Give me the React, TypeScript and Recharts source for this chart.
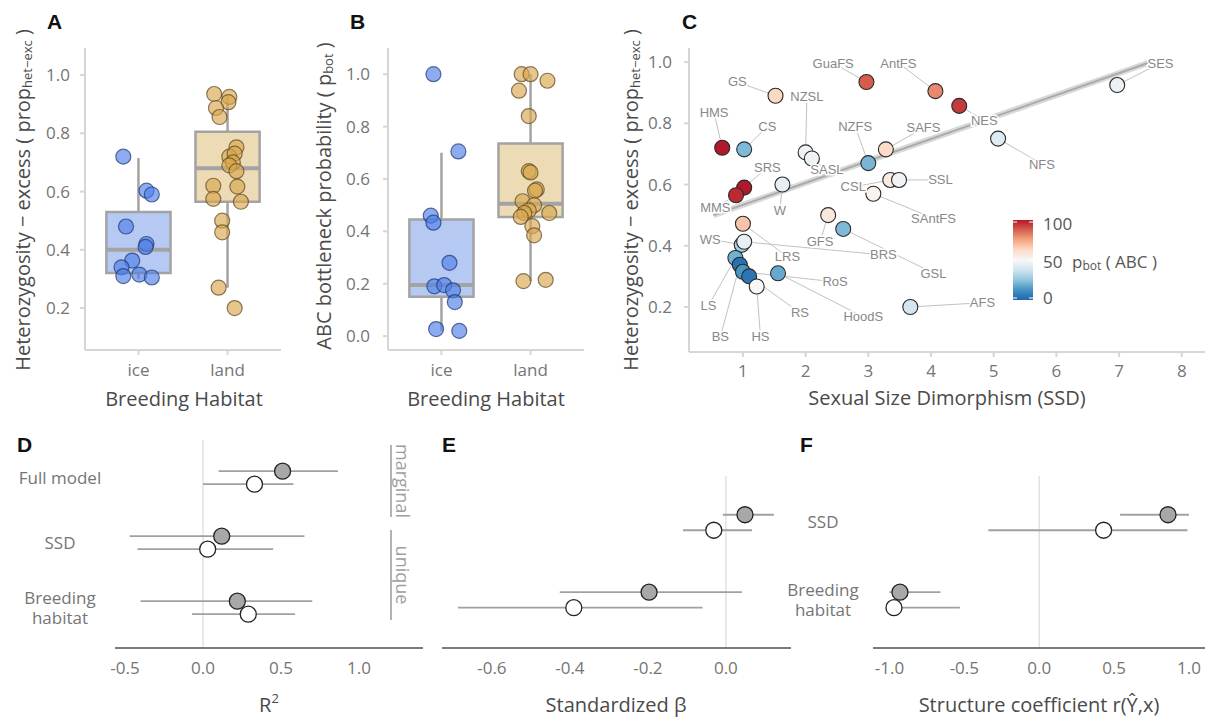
import React from 'react'
import {
    ScatterChart,
    Scatter,
    XAxis,
    YAxis,
    ReferenceLine,
    ReferenceArea,
    ErrorBar,
} from 'recharts'

const FONT = '"Open Sans", "DejaVu Sans", sans-serif'
const LABEL_FONT = '"Liberation Sans", Arial, sans-serif'
const TICK = { fill: '#757575', fontSize: 17, fontFamily: FONT }
const TITLE_FILL = '#4a4a4a'

// ---- panels A & B: one value per species, split by breeding habitat
const habitats = ['ice', 'land']

const hetIce = [0.72, 0.603, 0.59, 0.48, 0.42, 0.41, 0.363, 0.34, 0.31, 0.315, 0.305]
const hetIceJitter = [-0.17, 0.09, 0.15, -0.14, 0.09, 0.08, -0.07, -0.19, -0.17, 0.01, 0.15]
const hetLand = [0.935, 0.925, 0.907, 0.887, 0.856, 0.752, 0.72, 0.73, 0.7, 0.69, 0.67, 0.62, 0.617, 0.575, 0.565, 0.5, 0.46, 0.27, 0.2]
const hetLandJitter = [-0.15, 0.02, 0.01, -0.13, -0.09, 0.1, 0.02, 0.08, 0.06, 0.02, 0.1, -0.16, 0.11, -0.16, 0.15, -0.06, -0.06, -0.1, 0.08]

const pbotIce = [1.0, 0.705, 0.46, 0.433, 0.28, 0.19, 0.195, 0.175, 0.13, 0.027, 0.02]
const pbotIceJitter = [-0.09, 0.19, -0.12, -0.09, 0.09, -0.08, 0.03, 0.13, 0.15, -0.06, 0.2]
const pbotLand = [1.0, 1.0, 0.975, 0.937, 0.84, 0.63, 0.625, 0.56, 0.555, 0.515, 0.5, 0.48, 0.47, 0.47, 0.455, 0.42, 0.385, 0.21, 0.215]
const pbotLandJitter = [-0.1, 0.0, 0.19, -0.13, -0.02, -0.02, 0.0, 0.07, 0.05, -0.09, 0.04, -0.02, -0.07, 0.21, -0.11, 0.02, 0.04, -0.08, 0.17]

// box stats: [lower whisker, q1, median, q3, upper whisker]
const hetBoxes = [
    [0.3, 0.32, 0.4, 0.53, 0.715],
    [0.27, 0.565, 0.68, 0.805, 0.93],
]
const pbotBoxes = [
    [0.02, 0.15, 0.195, 0.445, 0.7],
    [0.21, 0.455, 0.505, 0.735, 1.0],
]

// ---- panel C: per species SSD, heterozygosity excess and p_bot (%)
const species = ['GuaFS', 'AntFS', 'SES', 'GS', 'NZSL', 'SASL', 'HMS', 'CS', 'NZFS', 'SAFS', 'NES', 'NFS', 'SRS', 'MMS', 'W', 'CSL', 'SSL', 'SAntFS', 'GFS', 'GSL', 'AFS', 'LRS', 'WS', 'BRS', 'LS', 'BS', 'RoS', 'RS', 'HS', 'HoodS']
const ssd = [2.97, 4.07, 6.97, 1.52, 2.0, 2.1, 0.67, 1.02, 3.0, 3.28, 4.45, 5.07, 1.02, 0.89, 1.63, 3.35, 3.49, 3.08, 2.36, 2.6, 3.67, 1.0, 0.98, 1.02, 0.88, 0.95, 1.0, 1.1, 1.22, 1.56]
const het = [0.935, 0.905, 0.925, 0.89, 0.705, 0.685, 0.72, 0.715, 0.67, 0.715, 0.857, 0.75, 0.59, 0.565, 0.6, 0.615, 0.615, 0.57, 0.5, 0.455, 0.2, 0.472, 0.403, 0.413, 0.36, 0.338, 0.315, 0.3, 0.267, 0.31]
const pbot = [88, 80, 46, 63, 47, 47, 100, 22, 21, 62, 94, 42, 100, 97, 44, 56, 48, 52, 57, 22, 38, 68, 30, 45, 20, 3, 13, 4, 50, 18]
// repelled label anchors (data units)
const labelSsd = [2.44, 3.48, 7.66, 0.91, 2.02, 2.34, 0.54, 1.39, 2.79, 3.88, 4.85, 5.77, 1.39, 0.56, 1.59, 2.76, 4.15, 4.04, 2.23, 4.04, 4.82, 1.71, 0.48, 3.24, 0.45, 0.64, 2.47, 1.91, 1.28, 2.92]
const labelHet = [0.997, 0.997, 0.997, 0.935, 0.886, 0.648, 0.834, 0.79, 0.79, 0.785, 0.81, 0.667, 0.657, 0.524, 0.514, 0.592, 0.615, 0.49, 0.413, 0.311, 0.214, 0.364, 0.422, 0.37, 0.204, 0.103, 0.282, 0.181, 0.103, 0.168]
const fitSsd = [0.53, 7.46]
const fitHet = [0.5, 0.997]

// ---- panels D-F: estimates with intervals (grey = filled dots, white = open dots)
const r2Rows = ['Full model', 'SSD', 'Breeding\nhabitat']
const r2Grey = [0.51, 0.12, 0.22]
const r2GreyLo = [0.1, -0.47, -0.4]
const r2GreyHi = [0.865, 0.65, 0.7]
const r2White = [0.33, 0.03, 0.29]
const r2WhiteLo = [0.0, -0.42, -0.07]
const r2WhiteHi = [0.58, 0.45, 0.59]

const predRows = ['SSD', 'Breeding\nhabitat']
const betaGrey = [0.049, -0.197]
const betaGreyLo = [-0.008, -0.426]
const betaGreyHi = [0.123, 0.041]
const betaWhite = [-0.031, -0.39]
const betaWhiteLo = [-0.11, -0.687]
const betaWhiteHi = [0.067, -0.06]

const structGrey = [0.86, -0.93]
const structGreyLo = [0.54, -1.0]
const structGreyHi = [1.0, -0.66]
const structWhite = [0.43, -0.97]
const structWhiteLo = [-0.34, -0.99]
const structWhiteHi = [0.99, -0.53]

// RdBu palette for p_bot
const RDBU = ['#2166ac', '#4393c3', '#92c5de', '#d1e5f0', '#f7f7f7', '#fddbc7', '#f4a582', '#d6604d', '#b2182b']
const hexRgb = (h: string) => [1, 3, 5].map((k) => parseInt(h.slice(k, k + 2), 16))
const rdbu = (v: number) => {
    const t = Math.max(0, Math.min(1, v / 100)) * (RDBU.length - 1)
    const i = Math.min(Math.floor(t), RDBU.length - 2)
    const f = t - i
    const a = hexRgb(RDBU[i])
    const b = hexRgb(RDBU[i + 1])
    const c = a.map((x, k) => Math.round(x + (b[k] - x) * f))
    return `rgb(${c[0]},${c[1]},${c[2]})`
}

const fmt1 = (v: number) => v.toFixed(1)

const bubble = (fill: string, edge: string) => (p: any) => (
    <circle
        cx={p.cx}
        cy={p.cy}
        r={7.5}
        fill={fill}
        fillOpacity={0.65}
        stroke={edge}
        strokeOpacity={0.7}
        strokeWidth={1.2}
    />
)

interface BoxPanelProps {
    ice: number[]
    iceJitter: number[]
    land: number[]
    landJitter: number[]
    boxes: number[][]
    domain: [number, number]
    ticks: number[]
    yWidth: number
    yMargin: number
}

const BOX_FILL = ['#b5c9f3', '#ecdbb5']
const BOX_EDGE = '#a3a3a3'

const BoxPanel = ({ ice, iceJitter, land, landJitter, boxes, domain, ticks, yWidth, yMargin }: BoxPanelProps) => {
    const pts = (vals: number[], jit: number[], cat: number) => vals.map((v, i) => ({ x: cat + jit[i], y: v }))
    return (
        <ScatterChart width={290} height={400} margin={{ top: 48, right: 290 - yWidth - 196, bottom: 10, left: 0 }}>
            <XAxis
                type="number"
                dataKey="x"
                domain={[0.4, 2.6]}
                allowDataOverflow
                ticks={[1, 2]}
                interval={0}
                tickFormatter={(v: number) => habitats[v - 1]}
                axisLine={{ stroke: '#d6d6d6', strokeWidth: 2 }}
                tickLine={{ stroke: '#d6d6d6', strokeWidth: 2 }}
                tickSize={5}
                tickMargin={9}
                tick={TICK}
                height={40}
            />
            <YAxis
                type="number"
                dataKey="y"
                domain={domain}
                allowDataOverflow
                ticks={ticks}
                interval={0}
                tickFormatter={fmt1}
                axisLine={{ stroke: '#d6d6d6', strokeWidth: 2 }}
                tickLine={{ stroke: '#d6d6d6', strokeWidth: 2 }}
                tickSize={5}
                tickMargin={yMargin}
                tick={TICK}
                width={yWidth}
            />
            {boxes.map((b, i) => {
                const c = i + 1
                return (
                    <React.Fragment key={c}>
                        <ReferenceLine segment={[{ x: c, y: b[0] }, { x: c, y: b[1] }]} stroke={BOX_EDGE} strokeWidth={2.5} />
                        <ReferenceLine segment={[{ x: c, y: b[3] }, { x: c, y: b[4] }]} stroke={BOX_EDGE} strokeWidth={2.5} />
                        <ReferenceArea
                            x1={c - 0.36}
                            x2={c + 0.36}
                            y1={b[1]}
                            y2={b[3]}
                            fill={BOX_FILL[i]}
                            fillOpacity={1}
                            stroke={BOX_EDGE}
                            strokeWidth={2.5}
                        />
                        <ReferenceLine
                            segment={[{ x: c - 0.36, y: b[2] }, { x: c + 0.36, y: b[2] }]}
                            stroke={BOX_EDGE}
                            strokeWidth={4}
                        />
                    </React.Fragment>
                )
            })}
            <Scatter data={pts(ice, iceJitter, 1)} shape={bubble('#4f7fe6', '#1d3570')} isAnimationActive={false} />
            <Scatter data={pts(land, landJitter, 2)} shape={bubble('#d9a84e', '#5e4620')} isAnimationActive={false} />
        </ScatterChart>
    )
}

const sealPoints = species.map((s, i) => ({ x: ssd[i], y: het[i], pbot: pbot[i], name: s }))
const sealLabels = species.map((s, i) => ({ x: labelSsd[i], y: labelHet[i], name: s }))
const fitLine = fitSsd.map((x, i) => ({ x, y: fitHet[i] }))

const SsdPanel = () => (
    <ScatterChart width={606} height={420} margin={{ top: 48, right: 1, bottom: 28, left: 0 }}>
        <XAxis
            type="number"
            dataKey="x"
            domain={[0.14, 8.37]}
            allowDataOverflow
            ticks={[1, 2, 3, 4, 5, 6, 7, 8]}
            interval={0}
            axisLine={{ stroke: '#d6d6d6', strokeWidth: 2 }}
            tickLine={{ stroke: '#d6d6d6', strokeWidth: 2 }}
            tickSize={5}
            tickMargin={8}
            tick={TICK}
            height={40}
        />
        <YAxis
            type="number"
            dataKey="y"
            domain={[0.053, 1.046]}
            allowDataOverflow
            ticks={[0.2, 0.4, 0.6, 0.8, 1.0]}
            interval={0}
            tickFormatter={fmt1}
            axisLine={{ stroke: '#d6d6d6', strokeWidth: 2 }}
            tickLine={{ stroke: '#d6d6d6', strokeWidth: 2 }}
            tickSize={5}
            tickMargin={12}
            tick={TICK}
            width={89}
        />
        <Scatter
            data={fitLine}
            line={{ stroke: '#cfcfcf', strokeWidth: 6, strokeOpacity: 0.8 }}
            shape={() => <g />}
            isAnimationActive={false}
        />
        <Scatter
            data={fitLine}
            line={{ stroke: '#ababab', strokeWidth: 2 }}
            shape={() => <g />}
            isAnimationActive={false}
        />
        {species.map((s, i) => (
            <ReferenceLine
                key={s}
                segment={[{ x: labelSsd[i], y: labelHet[i] }, { x: ssd[i], y: het[i] }]}
                stroke="#c2c2c2"
                strokeWidth={1}
            />
        ))}
        <Scatter
            data={sealPoints}
            shape={(p: any) => (
                <circle cx={p.cx} cy={p.cy} r={7.5} fill={rdbu(p.payload.pbot)} stroke="#2a2a2a" strokeWidth={1.1} />
            )}
            isAnimationActive={false}
        />
        <Scatter
            data={sealLabels}
            shape={(p: any) => (
                <text
                    x={p.cx}
                    y={p.cy}
                    textAnchor="middle"
                    dominantBaseline="central"
                    fontSize={13}
                    fontFamily={LABEL_FONT}
                    fill="#888"
                    stroke="#fff"
                    strokeWidth={3}
                    paintOrder="stroke"
                >
                    {p.payload.name}
                </text>
            )}
            isAnimationActive={false}
        />
    </ScatterChart>
)

const forestData = (est: number[], lo: number[], hi: number[], shift: number) =>
    est.map((e, i) => ({ x: e, y: est.length - i + shift, err: [e - lo[i], hi[i] - e] }))

const rowTick = (names: string[], shift: number) => (p: any) => {
    const lines = names[names.length - p.payload.value].split('\n')
    return (
        <text x={p.x - shift} y={p.y} textAnchor="middle" fill="#757575" fontSize={17} fontFamily={FONT}>
            {lines.map((l, i) => (
                <tspan key={i} x={p.x - shift} dy={i === 0 ? (lines.length > 1 ? '-0.22em' : '0.35em') : '1.15em'}>
                    {l}
                </tspan>
            ))}
        </text>
    )
}

const dot = (fill: string) => (p: any) => (
    <circle cx={p.cx} cy={p.cy} r={8} fill={fill} stroke="#222" strokeWidth={1.3} />
)

interface ForestProps {
    rows: string[]
    grey: number[][]
    white: number[][]
    xDomain: [number, number]
    yDomain: [number, number]
    ticks: number[]
    width: number
    margin: { top: number; right: number; bottom: number; left: number }
    yWidth: number
    labelShift: number
    showRows: boolean
}

const ForestPanel = ({ rows, grey, white, xDomain, yDomain, ticks, width, margin, yWidth, labelShift, showRows }: ForestProps) => (
    <ScatterChart width={width} height={299} margin={margin}>
        <XAxis
            type="number"
            dataKey="x"
            domain={xDomain}
            allowDataOverflow
            ticks={ticks}
            interval={0}
            tickFormatter={fmt1}
            axisLine={{ stroke: '#505050', strokeWidth: 1.6 }}
            tickLine={false}
            tickSize={0}
            tickMargin={14}
            tick={TICK}
            height={30}
        />
        {showRows ? (
            <YAxis
                type="number"
                dataKey="y"
                domain={yDomain}
                allowDataOverflow
                ticks={rows.map((_, i) => i + 1)}
                interval={0}
                axisLine={false}
                tickLine={false}
                tickSize={0}
                tickMargin={0}
                tick={rowTick(rows, labelShift)}
                width={yWidth}
            />
        ) : (
            <YAxis type="number" dataKey="y" domain={yDomain} allowDataOverflow hide />
        )}
        <ReferenceLine x={0} stroke="#e2e2e2" strokeWidth={1.5} />
        <Scatter data={forestData(grey[0], grey[1], grey[2], 0.1)} shape={dot('#a8a8a8')} isAnimationActive={false}>
            <ErrorBar dataKey="err" direction="x" width={0} stroke="#a0a0a0" strokeWidth={1.8} isAnimationActive={false} />
        </Scatter>
        <Scatter data={forestData(white[0], white[1], white[2], -0.1)} shape={dot('#ffffff')} isAnimationActive={false}>
            <ErrorBar dataKey="err" direction="x" width={0} stroke="#a0a0a0" strokeWidth={1.8} isAnimationActive={false} />
        </Scatter>
    </ScatterChart>
)

const Overlay = () => (
    <svg
        width={1206}
        height={719}
        style={{ position: 'absolute', left: 0, top: 0, pointerEvents: 'none' }}
        fontFamily={FONT}
    >
        <defs>
            <linearGradient id="rdbu" x1="0" y1="1" x2="0" y2="0">
                {RDBU.map((c, i) => (
                    <stop key={c} offset={`${(i / (RDBU.length - 1)) * 100}%`} stopColor={c} />
                ))}
            </linearGradient>
        </defs>
        {/* panel letters */}
        <g fontFamily={LABEL_FONT} fontWeight="bold" fontSize={21} fill="#111">
            <text x={47} y={29}>A</text>
            <text x={350} y={29}>B</text>
            <text x={682} y={29}>C</text>
            <text x={17} y={452}>D</text>
            <text x={442} y={452}>E</text>
            <text x={800} y={452}>F</text>
        </g>
        {/* axis titles */}
        <g fontSize={20} fill={TITLE_FILL}>
            <text transform="translate(22,200) rotate(-90)" textAnchor="middle" dominantBaseline="central">
                Heterozygosity − excess ( prop
                <tspan fontSize={13} dy={5}>het−exc</tspan>
                <tspan dy={-5}> )</tspan>
            </text>
            <text transform="translate(323,196) rotate(-90)" textAnchor="middle" dominantBaseline="central">
                ABC bottleneck probability ( p
                <tspan fontSize={13} dy={5}>bot</tspan>
                <tspan dy={-5}> )</tspan>
            </text>
            <text transform="translate(630,200) rotate(-90)" textAnchor="middle" dominantBaseline="central">
                Heterozygosity − excess ( prop
                <tspan fontSize={13} dy={5}>het−exc</tspan>
                <tspan dy={-5}> )</tspan>
            </text>
            <text x={184} y={406} textAnchor="middle">Breeding Habitat</text>
            <text x={486} y={406} textAnchor="middle">Breeding Habitat</text>
            <text x={947} y={405} textAnchor="middle">Sexual Size Dimorphism (SSD)</text>
            <text x={269} y={712} textAnchor="middle">
                R<tspan fontSize={13} dy={-9}>2</tspan>
            </text>
            <text x={616} y={712} textAnchor="middle">Standardized β</text>
            <text x={1039} y={712} textAnchor="middle">Structure coefficient r(Ŷ,x)</text>
        </g>
        {/* marginal / unique brackets in D */}
        <g stroke="#a0a0a0" strokeWidth={1.6}>
            <line x1={391} y1={445} x2={391} y2={517} />
            <line x1={391} y1={530} x2={391} y2={620} />
        </g>
        <g fontSize={18} fill="#a0a0a0">
            <text transform="translate(403,481) rotate(90)" textAnchor="middle" dominantBaseline="central">marginal</text>
            <text transform="translate(403,575) rotate(90)" textAnchor="middle" dominantBaseline="central">unique</text>
        </g>
        {/* p_bot colour bar */}
        <rect x={1013} y={220} width={20} height={80} fill="url(#rdbu)" />
        <g stroke="#fff" strokeWidth={1}>
            {[0, 50, 100].map((v) => (
                <React.Fragment key={v}>
                    <line x1={1013} x2={1017} y1={300 - v * 0.76 - 2} y2={300 - v * 0.76 - 2} />
                    <line x1={1029} x2={1033} y1={300 - v * 0.76 - 2} y2={300 - v * 0.76 - 2} />
                </React.Fragment>
            ))}
        </g>
        <g fontSize={17} fill="#555" dominantBaseline="central">
            <text x={1043} y={223}>100</text>
            <text x={1043} y={261}>50</text>
            <text x={1043} y={297}>0</text>
            <text x={1072} y={261}>
                p<tspan fontSize={12} dy={4}>bot</tspan>
                <tspan dy={-4}> ( ABC )</tspan>
            </text>
        </g>
    </svg>
)

export default function App() {
    return (
        <div style={{ position: 'relative', width: 1206, height: 719, background: '#fff', overflow: 'hidden' }}>
            <style>{'body { margin: 0; }'}</style>
            <div style={{ position: 'absolute', left: 0, top: 0 }}>
                <BoxPanel
                    ice={hetIce}
                    iceJitter={hetIceJitter}
                    land={hetLand}
                    landJitter={hetLandJitter}
                    boxes={hetBoxes}
                    domain={[0.056, 1.093]}
                    ticks={[0.2, 0.4, 0.6, 0.8, 1.0]}
                    yWidth={85}
                    yMargin={10}
                />
            </div>
            <div style={{ position: 'absolute', left: 300, top: 0 }}>
                <BoxPanel
                    ice={pbotIce}
                    iceJitter={pbotIceJitter}
                    land={pbotLand}
                    landJitter={pbotLandJitter}
                    boxes={pbotBoxes}
                    domain={[-0.053, 1.1]}
                    ticks={[0, 0.2, 0.4, 0.6, 0.8, 1.0]}
                    yWidth={88}
                    yMargin={13}
                />
            </div>
            <div style={{ position: 'absolute', left: 600, top: 0 }}>
                <SsdPanel />
            </div>
            <div style={{ position: 'absolute', left: 0, top: 420 }}>
                <ForestPanel
                    rows={r2Rows}
                    grey={[r2Grey, r2GreyLo, r2GreyHi]}
                    white={[r2White, r2WhiteLo, r2WhiteHi]}
                    xDomain={[-0.564, 1.41]}
                    yDomain={[0.38, 3.58]}
                    ticks={[-0.5, 0, 0.5, 1.0]}
                    width={430}
                    margin={{ top: 20, right: 7, bottom: 41, left: 0 }}
                    yWidth={115}
                    labelShift={55}
                    showRows
                />
            </div>
            <div style={{ position: 'absolute', left: 430, top: 420 }}>
                <ForestPanel
                    rows={predRows}
                    grey={[betaGrey, betaGreyLo, betaGreyHi]}
                    white={[betaWhite, betaWhiteLo, betaWhiteHi]}
                    xDomain={[-0.728, 0.167]}
                    yDomain={[0.38, 2.6]}
                    ticks={[-0.6, -0.4, -0.2, 0]}
                    width={370}
                    margin={{ top: 56, right: 9, bottom: 41, left: 12 }}
                    yWidth={0}
                    labelShift={0}
                    showRows={false}
                />
            </div>
            <div style={{ position: 'absolute', left: 770, top: 420 }}>
                <ForestPanel
                    rows={predRows}
                    grey={[structGrey, structGreyLo, structGreyHi]}
                    white={[structWhite, structWhiteLo, structWhiteHi]}
                    xDomain={[-1.11, 1.107]}
                    yDomain={[0.38, 2.6]}
                    ticks={[-1, -0.5, 0, 0.5, 1.0]}
                    width={436}
                    margin={{ top: 56, right: 1, bottom: 41, left: 0 }}
                    yWidth={103}
                    labelShift={50}
                    showRows
                />
            </div>
            <Overlay />
        </div>
    )
}
